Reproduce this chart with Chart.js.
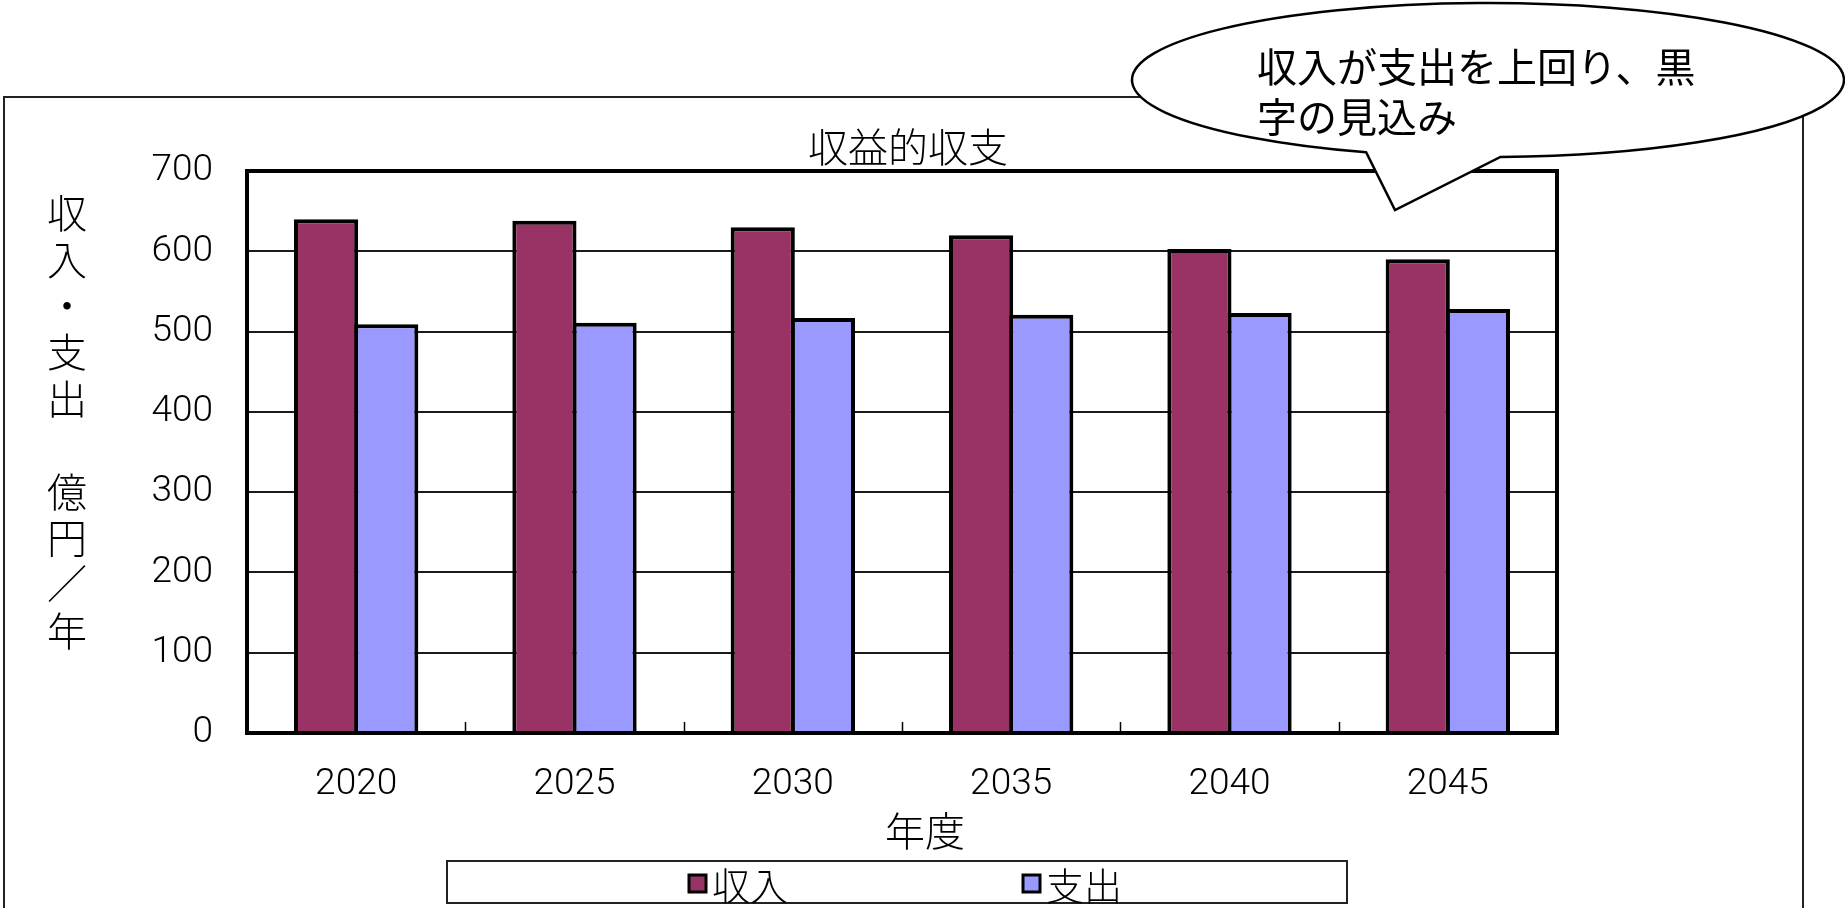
<!DOCTYPE html>
<html>
<head>
<meta charset="utf-8">
<style>
  html, body { margin: 0; padding: 0; background: #fff; }
  #wrap { width: 1845px; height: 908px; }
</style>
</head>
<body>
<div id="wrap">
    <canvas id="myChart" width="1845" height="908"></canvas>
</div>

<script src="https://cdn.jsdelivr.net/npm/chart.js"></script>

<script>
    // 年度ごとの収益的収支 (億円／年)
    const years = ['2020', '2025', '2030', '2035', '2040', '2045'];
    const income = [640, 638, 630, 620, 603, 590];
    const expense = [509, 511, 517, 521, 523, 528];
    const seriesNames = ['収入', '支出'];
    const seriesColors = ['#993366', '#9999ff'];

    const chartTitle = '収益的収支';
    const yTitle = '収入・支出　億円／年';
    const xTitle = '年度';
    const noteLines = ['収入が支出を上回り、黒', '字の見込み'];

    const JP = "'Noto Sans CJK JP', sans-serif";
    const NUM = { family: 'Roboto', size: 37, weight: '300' };

    function jpFont(size) {
        return '300 ' + size + 'px ' + JP;
    }

    // frame, titles, legend box and the speech bubble
    const decor = {
        id: 'decor',
        beforeDraw(chart) {
            const ctx = chart.ctx;
            ctx.save();
            ctx.fillStyle = '#fff';
            ctx.fillRect(0, 0, chart.width, chart.height);
            ctx.strokeStyle = '#222';
            ctx.lineWidth = 2;
            ctx.strokeRect(4, 97, 1799, 840);
            ctx.restore();
        },
        afterDatasetsDraw(chart) {
            const ctx = chart.ctx;
            const a = chart.chartArea;
            const xs = chart.scales.x;
            ctx.save();
            // small inward ticks between the year groups
            ctx.strokeStyle = '#000';
            ctx.lineWidth = 1.5;
            for (let i = 1; i < years.length; i++) {
                const px = Math.round((xs.getPixelForValue(i - 1) + xs.getPixelForValue(i)) / 2) + 0.5;
                ctx.beginPath();
                ctx.moveTo(px, a.bottom);
                ctx.lineTo(px, a.bottom - 11);
                ctx.stroke();
            }
            ctx.lineWidth = 4;
            ctx.strokeRect(a.left, a.top, a.right - a.left, a.bottom - a.top);
            ctx.restore();
        },
        afterDraw(chart) {
            const ctx = chart.ctx;
            ctx.save();
            ctx.fillStyle = '#000';
            ctx.textAlign = 'center';
            ctx.textBaseline = 'middle';

            ctx.font = jpFont(40);
            ctx.fillText(chartTitle, 908, 147);
            ctx.fillText(xTitle, 925, 831);

            // vertical axis title, one character per line
            const chars = Array.from(yTitle);
            for (let i = 0; i < chars.length; i++) {
                ctx.fillText(chars[i], 67, 213 + i * 46.4);
            }

            // legend
            ctx.strokeStyle = '#222';
            ctx.lineWidth = 2;
            ctx.strokeRect(447, 861, 900, 42);
            const itemX = [689, 1023];
            ctx.textAlign = 'left';
            ctx.font = jpFont(38);
            for (let i = 0; i < seriesNames.length; i++) {
                ctx.fillStyle = seriesColors[i];
                ctx.fillRect(itemX[i], 875, 17, 17);
                ctx.strokeStyle = '#000';
                ctx.lineWidth = 3;
                ctx.strokeRect(itemX[i], 875, 17, 17);
                ctx.fillStyle = '#000';
                ctx.fillText(seriesNames[i], itemX[i] + 23, 886);
            }

            // speech bubble
            const cx = 1488, cy = 80, rx = 356, ry = 77;
            const t1 = 110 * Math.PI / 180, t2 = 88 * Math.PI / 180;
            ctx.beginPath();
            ctx.ellipse(cx, cy, rx, ry, 0, t1, t2 + Math.PI * 2, false);
            ctx.lineTo(1395, 210);
            ctx.closePath();
            ctx.fillStyle = '#fff';
            ctx.fill();
            ctx.strokeStyle = '#000';
            ctx.lineWidth = 2.5;
            ctx.stroke();

            ctx.fillStyle = '#000';
            ctx.font = '400 40px ' + JP;
            ctx.textAlign = 'left';
            ctx.fillText(noteLines[0], 1257, 67);
            ctx.fillText(noteLines[1], 1257, 117);
            ctx.restore();
        }
    };

    // neighbouring bars overlap by one border width so the divider stays single
    const barStyle = {
        borderColor: '#000',
        borderWidth: 4,
        categoryPercentage: 0.551,
        barPercentage: 1.067,
    };

    const ctx = document.getElementById('myChart');
    const chart = new Chart(ctx, {
        type: 'bar',
        data: {
            labels: years,
            datasets: [
                Object.assign({ label: seriesNames[0], data: income, backgroundColor: seriesColors[0] }, barStyle),
                Object.assign({ label: seriesNames[1], data: expense, backgroundColor: seriesColors[1] }, barStyle),
            ]
        },
        options: {
            responsive: false,
            devicePixelRatio: 1,
            animation: false,
            layout: { padding: { top: 171, right: 288, bottom: 0, left: 0 } },
            plugins: {
                legend: { display: false },
                tooltip: { enabled: false },
            },
            scales: {
                x: {
                    grid: { display: false, drawTicks: false },
                    border: { display: false },
                    ticks: { font: NUM, color: '#000', padding: 30, maxRotation: 0 },
                    afterFit(scale) { scale.height = 175; },
                },
                y: {
                    min: 0,
                    max: 700,
                    grid: { color: '#1a1a1a', lineWidth: 2, drawTicks: false },
                    border: { display: false },
                    ticks: { stepSize: 100, font: NUM, color: '#000', padding: 34 },
                    afterFit(scale) { scale.width = 247; },
                }
            }
        },
        plugins: [decor]
    });
</script>
</body>
</html>
